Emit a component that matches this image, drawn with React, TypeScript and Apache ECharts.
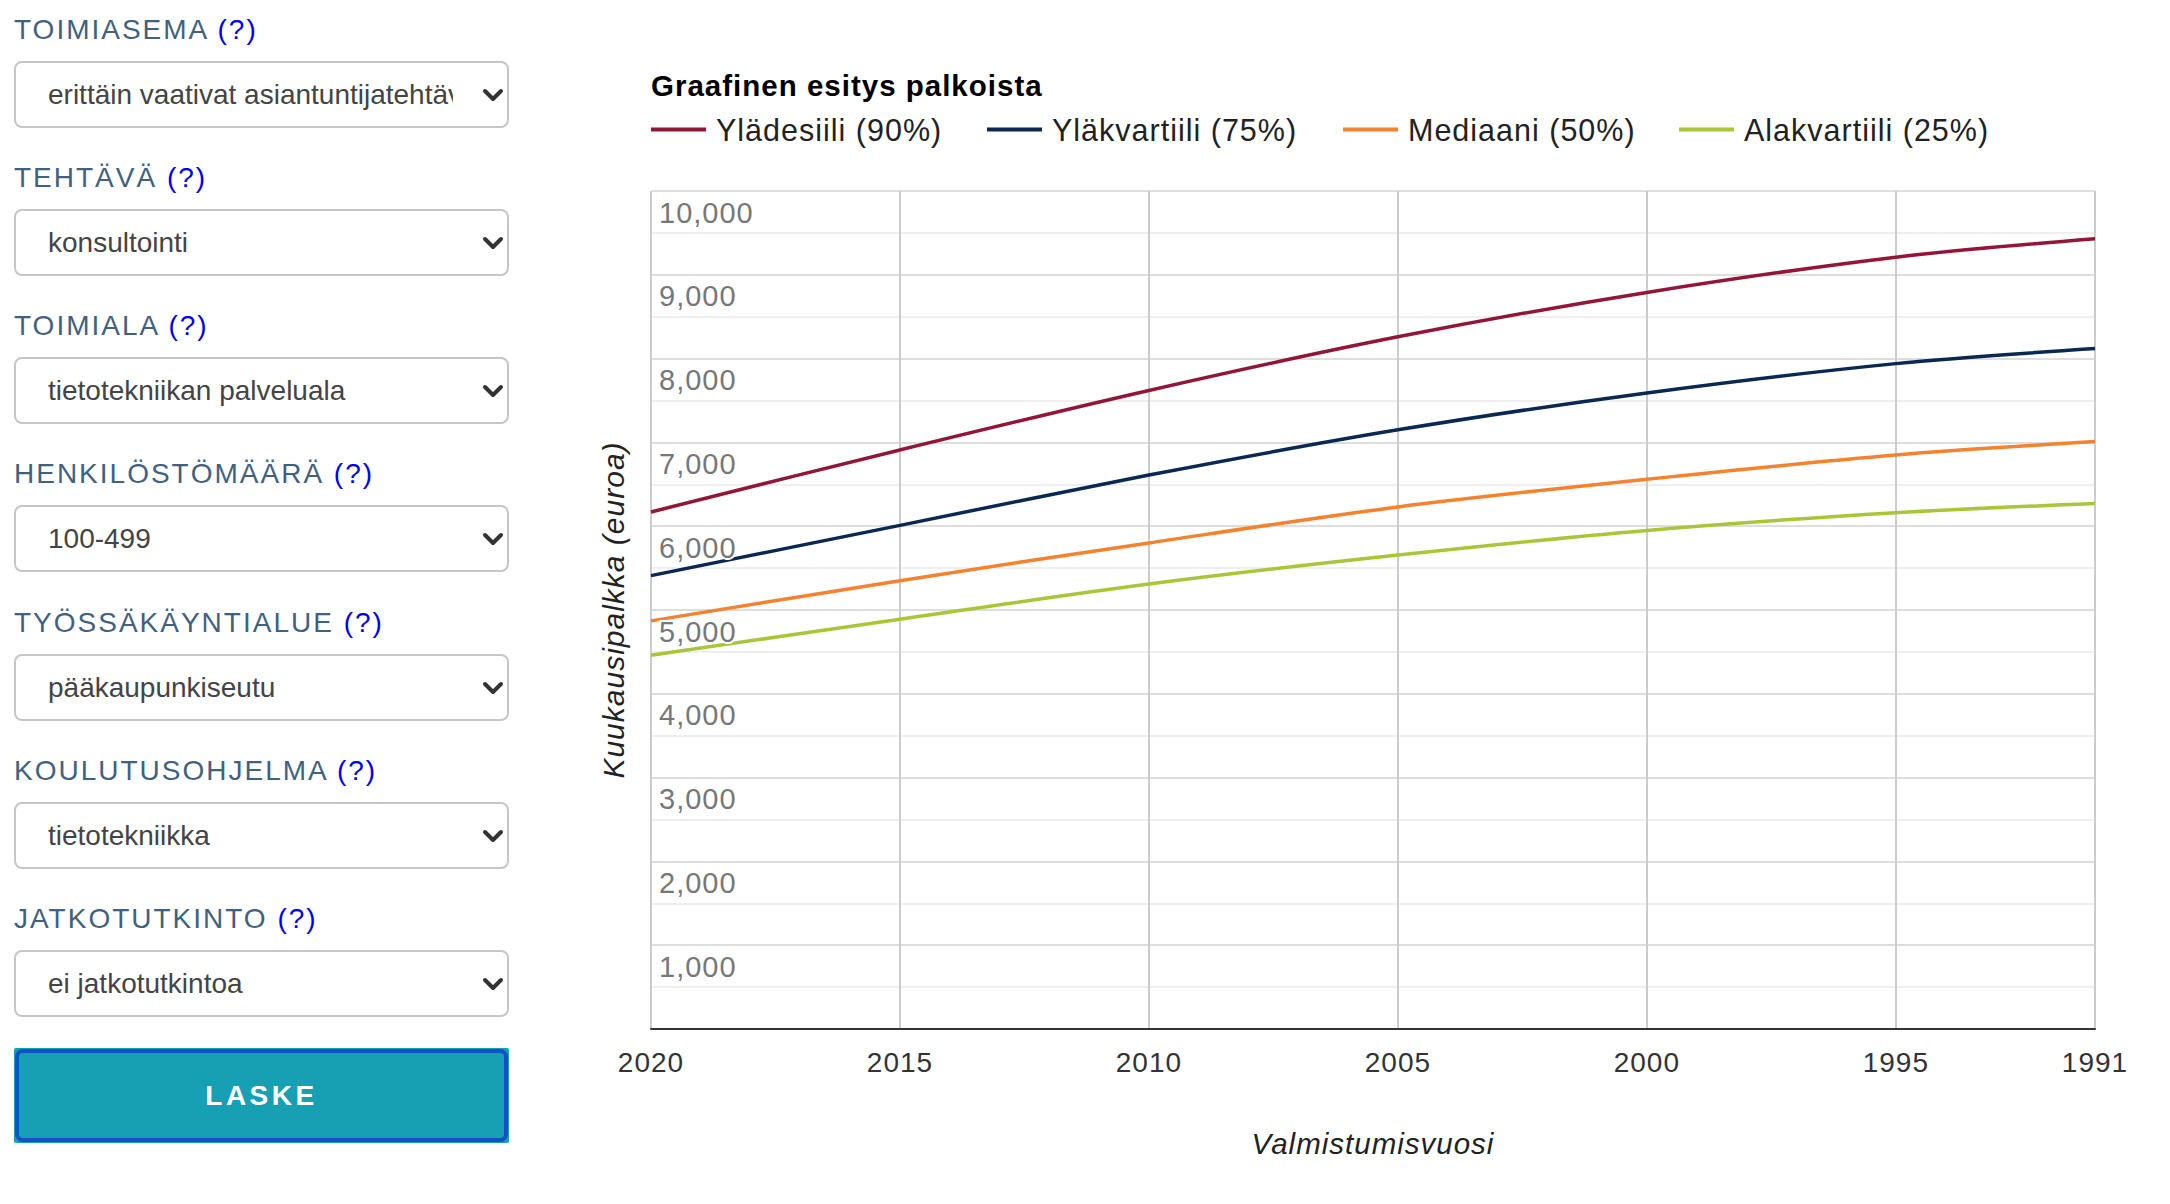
import React, { useEffect, useRef } from 'react';
import * as echarts from 'echarts';

// ---- data ----
const years = [2020, 2015, 2010, 2005, 2000, 1995, 1991];
const seriesNames = ['Ylädesiili (90%)', 'Yläkvartiili (75%)', 'Mediaani (50%)', 'Alakvartiili (25%)'];
const p90 = [6170, 6910, 7620, 8260, 8790, 9210, 9430];
const p75 = [5410, 6010, 6610, 7150, 7590, 7940, 8120];
const p50 = [4870, 5350, 5800, 6230, 6560, 6850, 7010];
const p25 = [4460, 4890, 5310, 5655, 5950, 6160, 6270];
const xTickYears = [2020, 2015, 2010, 2005, 2000, 1995, 1991];
const yMin = 0;
const yMax = 10000;

const chartTitle = 'Graafinen esitys palkoista';
const xTitle = 'Valmistumisvuosi';
const yTitle = 'Kuukausipalkka (euroa)';

const formLabels = [
  'TOIMIASEMA',
  'TEHTÄVÄ',
  'TOIMIALA',
  'HENKILÖSTÖMÄÄRÄ',
  'TYÖSSÄKÄYNTIALUE',
  'KOULUTUSOHJELMA',
  'JATKOTUTKINTO',
];
const formValues = [
  'erittäin vaativat asiantuntijatehtävät',
  'konsultointi',
  'tietotekniikan palveluala',
  '100-499',
  'pääkaupunkiseutu',
  'tietotekniikka',
  'ei jatkotutkintoa',
];
const buttonText = 'LASKE';

// ---- styles ----
const FONT = '"Liberation Sans", Arial, Helvetica, sans-serif';
const seriesColors = ['#931638', '#0b2852', '#f5822e', '#a8c638'];
const legendLeft = [651, 987, 1343, 1679];

function buildOption() {
  const values = [p90, p75, p50, p25];
  return {
    animation: false,
    textStyle: { fontFamily: FONT },
    title: {
      text: chartTitle,
      left: 651,
      top: 70,
      padding: 0,
      textStyle: { fontSize: 29.5, fontWeight: 'bold', color: '#000', fontFamily: FONT },
    },
    legend: seriesNames.map((name, i) => ({
      data: [name],
      left: legendLeft[i],
      top: 114,
      padding: 0,
      itemWidth: 55,
      itemHeight: 4,
      icon: 'rect',
      selectedMode: false,
      textStyle: { fontSize: 30.5, color: '#222', padding: [0, 0, 0, 5], fontFamily: FONT },
    })),
    grid: { left: 651, right: 75, top: 191, bottom: 175, containLabel: false },
    xAxis: {
      type: 'value',
      min: 1991,
      max: 2020,
      inverse: true,
      axisLine: { show: true, lineStyle: { color: '#333', width: 2 } },
      axisTick: { show: false, customValues: xTickYears },
      axisLabel: {
        customValues: xTickYears,
        color: '#333',
        fontSize: 28,
        margin: 19,
        fontFamily: FONT,
        formatter: (v: number) => String(v),
      },
      splitLine: { show: true, lineStyle: { color: '#cccccc', width: 2 } },
    },
    yAxis: [
      {
        type: 'value',
        min: yMin,
        max: yMax,
        interval: 500,
        axisLine: { show: false },
        axisTick: { show: false },
        axisLabel: { show: false },
        splitLine: { show: true, lineStyle: { color: ['#dedede', '#efefef'], width: 2 } },
      },
      {
        type: 'value',
        min: yMin,
        max: yMax,
        interval: 1000,
        position: 'left',
        z: 10,
        axisLine: { show: false },
        axisTick: { show: false },
        splitLine: { show: false },
        axisLabel: {
          inside: true,
          showMinLabel: false,
          margin: 8,
          verticalAlign: 'top',
          padding: [7, 0, 0, 0],
          color: '#777',
          fontSize: 29,
          fontFamily: FONT,
          textBorderColor: '#fff',
          textBorderWidth: 4,
          formatter: (v: number) => v.toLocaleString('en-US'),
        },
      },
    ],
    graphic: [
      {
        type: 'text',
        x: 1373,
        y: 1143,
        style: {
          text: xTitle,
          font: `italic 29.5px ${FONT}`,
          fill: '#222',
          align: 'center',
          verticalAlign: 'middle',
        },
      },
      {
        type: 'text',
        x: 613,
        y: 610,
        rotation: Math.PI / 2,
        style: {
          text: yTitle,
          font: `italic 30px ${FONT}`,
          fill: '#222',
          align: 'center',
          verticalAlign: 'middle',
        },
      },
    ],
    series: values.map((vals, i) => ({
      name: seriesNames[i],
      type: 'line',
      yAxisIndex: 0,
      data: years.map((y, j) => [y, vals[j]]),
      smooth: 0.3,
      showSymbol: false,
      symbol: 'none',
      lineStyle: { color: seriesColors[i], width: 3.5 },
      itemStyle: { color: seriesColors[i] },
      z: 3,
    })),
  };
}

const GROUP_STEP = 148.15;

export default function App() {
  const ref = useRef<HTMLDivElement>(null);
  useEffect(() => {
    if (!ref.current) return;
    const chart = echarts.init(ref.current, null, { renderer: 'svg' });
    chart.setOption(buildOption() as any);
    return () => chart.dispose();
  }, []);

  return (
    <div
      style={{
        position: 'absolute',
        left: 0,
        top: 0,
        width: 2170,
        height: 1204,
        overflow: 'hidden',
        background: '#fff',
        fontFamily: FONT,
      }}
    >
      <style>{'.chart-host text { letter-spacing: 1px; }'}</style>
      <div ref={ref} className="chart-host" style={{ position: 'absolute', left: 0, top: 0, width: 2170, height: 1204 }} />
      {formLabels.map((label, i) => (
        <React.Fragment key={label}>
          <div
            style={{
              position: 'absolute',
              left: 14,
              top: 14 + GROUP_STEP * i,
              fontSize: 28,
              lineHeight: '32px',
              letterSpacing: '2px',
              color: '#42617f',
              whiteSpace: 'nowrap',
              zIndex: 2,
            }}
          >
            {label} <span style={{ color: '#0000ee' }}>(?)</span>
          </div>
          <div
            style={{
              position: 'absolute',
              left: 14,
              top: 61 + GROUP_STEP * i,
              width: 495,
              height: 67,
              boxSizing: 'border-box',
              border: '2px solid #c6c6c6',
              borderRadius: 8,
              background: '#fff',
              zIndex: 2,
            }}
          >
            <div
              style={{
                position: 'absolute',
                left: 32,
                top: 0,
                width: 405,
                height: 63,
                overflow: 'hidden',
                whiteSpace: 'nowrap',
                fontSize: 28,
                lineHeight: '63px',
                color: '#444',
              }}
            >
              {formValues[i]}
            </div>
            <svg style={{ position: 'absolute', left: 466, top: 25 }} width="22" height="14">
              <polyline points="3,3 11,11 19,3" fill="none" stroke="#333" strokeWidth="4" strokeLinecap="round" strokeLinejoin="round" />
            </svg>
          </div>
        </React.Fragment>
      ))}
      <div
        style={{
          position: 'absolute',
          left: 14,
          top: 1048,
          width: 495,
          height: 95,
          background: '#179fb3',
          borderRadius: 2,
          zIndex: 2,
        }}
      >
        <div
          style={{
            position: 'absolute',
            left: 1,
            top: 1,
            right: 1,
            bottom: 1,
            border: '4px solid #0f51c9',
            borderRadius: 8,
          }}
        />
        <div
          style={{
            position: 'absolute',
            left: 0,
            top: 0,
            width: '100%',
            height: '100%',
            textAlign: 'center',
            lineHeight: '95px',
            fontSize: 28,
            fontWeight: 'bold',
            letterSpacing: '3.5px',
            color: '#fff',
          }}
        >
          {buttonText}
        </div>
      </div>
    </div>
  );
}
